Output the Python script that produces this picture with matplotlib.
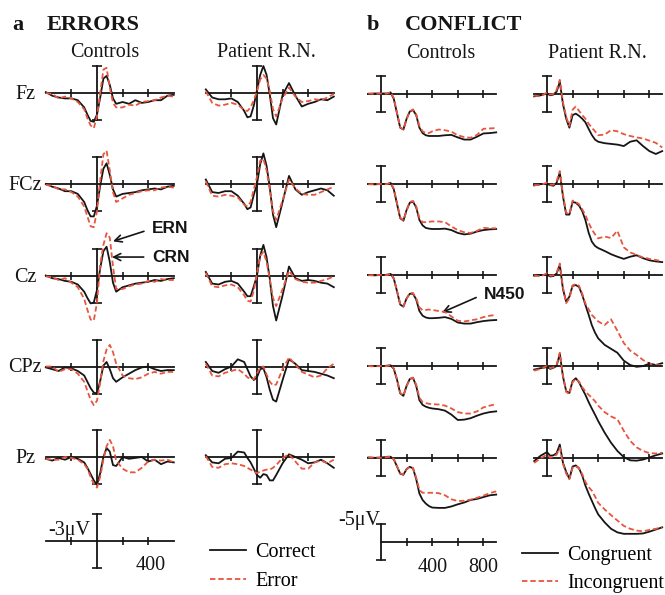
import matplotlib.pyplot as plt
from matplotlib.lines import Line2D

W, H = 665, 595
SERIF = 'Liberation Serif'
SANS = 'Liberation Sans'
RED = '#e8553f'
INK = '#151515'

electrodes = ['Fz', 'FCz', 'Cz', 'CPz', 'Pz']

# time points (ms) at which values were read
t_err = [-400, -350, -300, -250, -200, -150, -100, -75, -50, -25, 0, 25, 50, 75,
         100, 125, 150, 200, 250, 300, 350, 400, 450, 500, 550, 600]
t_conf = [-100, -50, 0, 25, 50, 75, 100, 125, 150, 175, 200, 225, 250, 275, 300,
          325, 350, 375, 400, 450, 500, 550, 600, 650, 700, 750, 800, 850, 900]

# ---- a ERRORS (uV, negative plotted up), rows Fz..Pz ----
err_ctrl_correct = [
    [-0.1, 0.3, 0.5, 0.6, 0.6, 0.8, 1.6, 2.4, 3.1, 3.2, 2.4, 0.5, -1.6, -1.9, -0.9, 0.6, 1.2, 1.0, 1.2, 0.8, 1.1, 1.0, 0.8, 0.8, 0.3, 0.2],
    [0.0, 0.3, 0.5, 0.8, 0.8, 1.1, 2.0, 2.9, 3.6, 3.6, 2.4, 0.2, -1.7, -2.3, -1.0, 0.6, 1.4, 1.1, 1.0, 0.9, 0.7, 0.6, 0.5, 0.6, 0.3, 0.2],
    [0.0, 0.3, 0.4, 0.6, 0.7, 1.0, 1.8, 2.5, 3.1, 3.0, 1.6, -0.8, -2.7, -3.2, -1.5, 0.8, 1.8, 1.3, 1.1, 0.9, 0.8, 0.7, 0.5, 0.6, 0.4, 0.3],
    [0.1, 0.3, 0.5, 0.1, 0.2, 0.5, 1.0, 1.7, 2.4, 2.9, 3.0, 1.6, -0.1, -0.5, 0.3, 1.3, 1.7, 1.2, 0.8, 0.4, 0.1, 0.0, 0.3, 0.5, 0.4, 0.4],
    [0.2, 0.4, 0.1, 0.3, 0.0, 0.2, 0.6, 1.2, 1.9, 2.6, 3.1, 1.8, 0.0, -1.0, -0.6, 0.9, 1.0, 0.0, 0.2, 0.1, 0.0, 0.5, 0.3, 0.8, 0.5, 0.6],
]
err_ctrl_error = [
    [0.0, 0.1, 0.6, 0.4, 0.6, 1.0, 1.8, 2.8, 3.6, 3.9, 2.6, 0.0, -2.6, -2.8, -0.6, 1.1, 1.6, 1.6, 1.3, 1.4, 1.0, 0.9, 0.8, 0.5, 0.3, 0.4],
    [0.1, 0.2, 0.6, 0.6, 0.9, 1.4, 2.5, 3.6, 4.7, 4.8, 3.0, -0.4, -3.3, -3.7, -1.5, 0.9, 2.0, 1.6, 1.2, 1.0, 0.8, 0.7, 0.7, 0.4, 0.3, 0.4],
    [0.1, 0.2, 0.5, 0.3, 0.8, 1.3, 2.6, 3.8, 4.9, 5.0, 3.0, -1.2, -3.4, -4.7, -4.2, -1.0, 1.5, 1.5, 1.2, 1.0, 0.9, 0.6, 0.7, 0.4, 0.5, 0.5],
    [0.0, 0.0, 0.6, 0.3, 0.3, 0.8, 1.7, 2.7, 3.7, 4.3, 3.8, 1.8, -0.6, -1.9, -2.4, -1.6, -0.3, 1.0, 1.3, 1.4, 1.2, 0.8, 0.6, 0.8, 0.6, 0.6],
    [0.2, 0.3, 0.3, 0.0, 0.1, 0.3, 0.8, 1.3, 2.2, 3.0, 3.4, 2.2, 0.3, -1.2, -1.9, -1.2, 0.4, 1.3, 1.7, 1.7, 1.2, 0.5, 0.3, 0.4, 0.3, 0.6],
]
err_pat_correct = [
    [-0.4, 0.5, 0.7, 0.7, 0.6, 1.0, 2.0, 2.7, 2.6, 1.4, -0.3, -2.0, -3.0, -2.0, 0.2, 2.8, 3.5, 0.2, -1.1, 0.3, 1.5, 1.2, 1.0, 0.7, 0.8, 0.4],
    [-0.5, 0.9, 1.0, 0.8, 0.8, 1.3, 2.2, 2.8, 2.6, 1.2, 0.0, -2.2, -3.4, -2.0, 0.4, 3.4, 4.8, 2.0, -0.9, 0.6, 1.2, 0.9, 0.7, 0.5, 0.7, 1.3],
    [-0.4, 0.9, 1.0, 0.7, 0.6, 0.9, 1.8, 2.3, 2.3, 1.2, 0.0, -2.2, -3.4, -2.0, 0.4, 3.4, 5.0, 2.2, -1.0, 0.3, 0.6, 0.5, 0.6, 0.8, 0.9, 1.3],
    [-0.5, 0.5, 0.7, 0.3, 0.0, -0.8, -0.5, 0.3, 1.1, 1.5, 1.2, 0.3, 0.2, 1.2, 2.6, 3.7, 3.9, 1.5, -0.8, -0.3, 0.4, 0.5, 0.6, 0.8, 1.0, 1.3],
    [-0.2, 0.6, 0.7, 0.2, 0.1, -0.6, -0.5, 0.1, 0.6, 1.3, 2.0, 2.3, 1.9, 2.0, 2.6, 2.6, 2.0, 0.7, -0.3, 0.0, 0.3, 0.7, 0.6, 0.3, 0.7, 1.2],
]
err_pat_error = [
    [-0.2, 1.1, 1.4, 1.3, 1.1, 1.3, 1.9, 2.0, 1.6, 0.8, -0.2, -1.5, -2.0, -1.6, -0.2, 1.8, 2.6, 0.6, -0.6, 0.4, 1.0, 0.9, 0.7, 0.8, 0.5, 0.1],
    [-0.3, 1.3, 1.4, 1.2, 1.3, 1.5, 2.3, 2.5, 2.0, 0.6, -0.8, -2.6, -2.8, -1.5, 0.6, 3.0, 4.0, 1.8, -0.5, 0.5, 1.1, 1.2, 1.2, 0.9, 0.6, 0.3],
    [-0.3, 1.2, 1.3, 1.1, 1.0, 1.3, 2.2, 2.8, 2.9, 1.7, -0.2, -2.2, -2.6, -1.5, 0.4, 2.5, 3.4, 1.5, -0.5, 0.4, 0.7, 0.8, 0.8, 0.6, 0.4, 0.1],
    [-0.3, 1.0, 1.1, 0.7, 0.5, 0.3, 0.8, 1.2, 1.4, 1.4, 0.8, 0.1, 0.0, 0.9, 1.7, 2.1, 2.0, 0.3, -1.0, -0.2, 0.6, 0.9, 1.2, 1.0, 0.2, -0.3],
    [-0.1, 1.1, 1.2, 0.8, 0.7, 0.8, 1.0, 1.2, 1.4, 1.6, 1.8, 1.6, 1.5, 1.4, 1.4, 1.2, 0.9, 0.1, -0.3, 0.5, 1.3, 1.3, 0.6, 0.4, 0.7, 0.3],
]

# ---- b CONFLICT ----
conf_ctrl_cong = [
    [0.1, 0.0, 0.0, 0.0, 0.0, -0.3, 1.5, 5.5, 9.5, 10.0, 7.0, 5.0, 4.6, 6.0, 9.5, 11.0, 11.6, 11.8, 11.8, 11.8, 11.6, 11.5, 12.2, 12.8, 12.8, 12.0, 11.1, 11.0, 10.8],
    [0.0, 0.1, 0.0, 0.0, 0.0, -0.3, 1.5, 5.5, 9.5, 10.2, 7.2, 5.2, 4.9, 6.5, 10.0, 11.5, 12.2, 12.4, 12.5, 12.5, 12.4, 12.8, 13.6, 14.0, 13.8, 13.2, 12.8, 12.6, 12.5],
    [0.0, 0.1, 0.0, 0.0, -0.1, -0.3, 1.0, 4.5, 8.2, 8.8, 6.5, 5.2, 5.2, 6.8, 10.0, 11.3, 11.8, 12.0, 12.0, 11.9, 11.7, 12.2, 13.2, 13.5, 13.5, 13.1, 12.8, 12.6, 12.5],
    [0.0, 0.0, 0.0, 0.0, -0.1, -0.2, 0.8, 3.8, 7.6, 8.3, 5.5, 3.6, 3.3, 5.5, 9.5, 10.8, 11.3, 11.6, 11.8, 12.0, 12.4, 13.5, 15.0, 14.9, 14.5, 13.8, 13.2, 12.8, 12.6],
    [0.0, 0.1, 0.0, -0.1, -0.2, -0.2, 0.5, 2.5, 4.5, 4.8, 3.2, 2.6, 3.0, 6.0, 10.0, 11.8, 12.8, 13.5, 13.9, 14.0, 14.0, 13.6, 13.0, 12.5, 11.8, 11.5, 11.0, 10.5, 10.3],
]
conf_ctrl_incong = [
    [0.0, 0.1, 0.0, 0.1, 0.0, -0.4, 1.3, 5.4, 9.4, 10.0, 7.2, 5.0, 4.4, 5.8, 9.0, 10.5, 11.0, 11.0, 10.5, 10.0, 10.2, 10.6, 11.6, 12.1, 12.3, 11.5, 9.8, 9.7, 9.6],
    [0.1, 0.0, 0.0, 0.1, 0.0, -0.4, 1.3, 5.3, 9.3, 10.1, 7.4, 5.0, 4.7, 6.2, 9.4, 10.6, 10.6, 10.5, 10.4, 10.4, 10.6, 11.8, 12.8, 13.4, 13.6, 13.0, 12.2, 12.3, 12.3],
    [0.1, 0.0, 0.0, 0.1, 0.0, -0.4, 0.9, 4.4, 8.0, 8.7, 6.6, 5.0, 5.0, 6.5, 9.0, 9.8, 9.7, 9.6, 9.7, 10.0, 10.3, 11.5, 12.7, 12.9, 12.6, 12.3, 11.7, 11.3, 11.1],
    [0.0, 0.1, 0.0, 0.1, 0.0, -0.3, 0.7, 3.7, 7.4, 8.2, 5.6, 3.6, 3.2, 5.2, 8.8, 10.0, 10.3, 10.5, 10.6, 10.7, 11.0, 11.8, 12.8, 13.2, 13.2, 12.6, 11.5, 11.0, 10.6],
    [0.0, 0.0, 0.1, -0.1, -0.1, -0.3, 0.4, 2.4, 4.4, 4.7, 3.3, 2.6, 2.9, 5.6, 9.0, 9.8, 9.8, 9.8, 9.8, 9.9, 10.5, 11.6, 12.1, 12.0, 11.7, 11.2, 10.6, 9.9, 9.4],
]
conf_pat_cong = [
    [0.8, 0.5, 0.0, 0.5, 0.3, -0.5, -3.2, 3.0, 7.0, 9.5, 6.0, 5.6, 6.2, 7.0, 8.0, 9.8, 11.5, 12.8, 13.4, 13.8, 14.0, 14.2, 14.6, 13.4, 13.0, 14.6, 16.0, 16.8, 16.0],
    [0.4, 0.0, 0.0, 0.3, 0.5, -0.3, -3.2, 3.5, 8.5, 8.5, 5.0, 5.2, 6.0, 7.5, 10.0, 13.5, 16.0, 17.2, 17.8, 18.6, 19.5, 20.2, 20.8, 20.2, 19.8, 20.6, 21.2, 21.5, 21.7],
    [0.2, 0.0, 0.0, 0.4, 0.3, -0.4, -2.8, 4.0, 7.4, 6.0, 3.0, 2.8, 3.3, 5.5, 8.3, 11.0, 13.9, 16.0, 17.6, 19.4, 20.5, 21.6, 23.8, 25.0, 25.5, 25.3, 24.6, 25.0, 24.5],
    [1.0, 0.6, 0.3, 0.8, 0.5, 0.0, -3.4, 3.0, 7.0, 7.5, 4.2, 3.4, 4.5, 6.3, 8.0, 10.0, 11.8, 13.5, 15.3, 18.5, 21.3, 23.6, 25.3, 26.2, 26.3, 26.0, 25.4, 24.8, 24.3],
    [1.0, -0.5, -1.5, -0.5, -0.6, -1.2, -3.6, 1.5, 4.0, 5.9, 2.5, 2.2, 3.0, 5.0, 7.8, 10.0, 12.0, 14.0, 15.8, 18.0, 19.8, 20.8, 21.2, 21.2, 21.2, 21.1, 20.6, 20.0, 19.4],
]
conf_pat_incong = [
    [0.6, 0.8, -0.3, 0.3, 0.1, -1.0, -3.8, 2.5, 6.5, 9.0, 4.5, 3.6, 4.8, 6.0, 7.0, 8.4, 9.5, 10.5, 11.6, 11.4, 10.2, 10.5, 11.3, 11.8, 12.2, 12.5, 13.1, 13.7, 15.0],
    [0.3, 0.3, -0.4, 0.2, 0.2, -0.8, -3.6, 3.0, 8.0, 8.4, 4.6, 5.0, 5.6, 7.0, 8.6, 10.8, 12.6, 14.0, 15.1, 14.6, 15.0, 13.0, 17.6, 19.0, 19.7, 20.4, 20.8, 21.1, 21.5],
    [0.1, 0.4, -0.5, 0.2, 0.1, -0.6, -3.2, 3.5, 7.8, 6.5, 2.9, 2.5, 3.0, 5.2, 7.9, 9.5, 11.1, 12.0, 12.9, 13.9, 12.3, 15.5, 18.9, 21.0, 22.2, 23.6, 24.6, 25.0, 25.0],
    [1.3, 0.8, 0.0, 0.6, 0.4, -0.3, -3.7, 2.7, 7.2, 7.8, 4.5, 3.6, 4.3, 5.9, 7.0, 8.0, 8.8, 9.8, 11.0, 12.8, 14.0, 14.8, 18.0, 20.8, 22.6, 23.6, 24.2, 24.3, 24.1],
    [1.5, 0.2, -0.8, 0.0, -0.2, -0.8, -2.7, 1.8, 4.5, 6.0, 2.8, 2.4, 3.0, 4.6, 6.8, 8.2, 9.2, 10.8, 12.6, 14.4, 16.0, 17.5, 19.0, 19.8, 20.3, 20.5, 20.1, 19.8, 19.4],
]

err_rows = [93, 184, 275.5, 366.5, 457, 541]      # baseline y (px from top)
conf_rows = [93.5, 184, 275, 366, 457.5, 542]
PX_PER_MS = 0.128

fig = plt.figure(figsize=(W / 100, H / 100), dpi=100)


def panel(x0, base, tmin, tmax, px_uv, up, down, bar, xticks, x_from=None):
    w = (tmax - tmin) * PX_PER_MS
    top = base - up * px_uv
    h = (up + down) * px_uv
    ax = fig.add_axes([x0 / W, 1 - (top + h) / H, w / W, h / H])
    ax.set_xlim(tmin, tmax)
    ax.set_ylim(down, -up)
    ax.patch.set_alpha(0)
    for s in ['top', 'right']:
        ax.spines[s].set_visible(False)
    for s in ['bottom', 'left']:
        ax.spines[s].set_position(('data', 0))
        ax.spines[s].set_linewidth(1.3)
        ax.spines[s].set_color(INK)
    ax.spines['left'].set_bounds(-bar, bar)
    ax.spines['bottom'].set_bounds(tmin if x_from is None else x_from, tmax)
    ax.set_xticks(xticks)
    ax.set_yticks([-bar, bar])
    ax.tick_params(axis='x', direction='inout', length=6, width=1.2, color=INK, labelbottom=False)
    ax.tick_params(axis='y', direction='inout', length=7, width=1.2, color=INK, labelleft=False)
    return ax


def traces(ax, t, solid, dashed):
    ax.plot(t, solid, color=INK, lw=1.3, clip_on=False, zorder=3)
    ax.plot(t, dashed, color=RED, lw=1.3, ls=(0, (3, 1.6)), clip_on=False, zorder=4)


err_axes = []
conf_axes = []
for i, name in enumerate(electrodes):
    # errors: controls, patient
    a1 = panel(45.8, err_rows[i], -400, 600, 9, 5, 5, 3, [-200, 200, 400])
    traces(a1, t_err, err_ctrl_correct[i], err_ctrl_error[i])
    a2 = panel(205.8, err_rows[i], -400, 600, 9, 5, 5, 3, [-200, 200, 400])
    traces(a2, t_err, err_pat_correct[i], err_pat_error[i])
    err_axes.append(a1)
    # conflict: controls, patient
    b1 = panel(368.2, conf_rows[i], -100, 900, 3.6, 5, 20, 5, [200, 400, 600, 800])
    traces(b1, t_conf, conf_ctrl_cong[i], conf_ctrl_incong[i])
    b2 = panel(534.2, conf_rows[i], -100, 900, 3.6, 5, 20, 5, [200, 400, 600, 800])
    traces(b2, t_conf, conf_pat_cong[i], conf_pat_incong[i])
    conf_axes.append(b1)
    fig.text(25 / W, 1 - (err_rows[i] + 1.5) / H, name, ha='center', va='center',
             family=SERIF, fontsize=14.5, color=INK)

# scale bars
s1 = panel(45.8, err_rows[5], -400, 600, 9, 5, 5, 3, [-200, 200, 400])
s1.text(-50, -1.2, '-3\u03bcV', ha='right', va='center', family=SERIF, fontsize=14.5, color=INK)
s1.text(420, 2.7, '400', ha='center', va='center', family=SERIF, fontsize=14.5, color=INK)
s2 = panel(368.2, conf_rows[5], -100, 900, 3.6, 5, 20, 5, [200, 400, 600, 800], x_from=0)
s2.text(-5, -6.0, '-5\u03bcV', ha='right', va='center', family=SERIF, fontsize=14.5, color=INK)
s2.text(400, 7, '400', ha='center', va='center', family=SERIF, fontsize=14.5, color=INK)
s2.text(800, 7, '800', ha='center', va='center', family=SERIF, fontsize=14.5, color=INK)

# headings
fig.text(12 / W, 1 - 30 / H, 'a', family=SERIF, weight='bold', fontsize=16, color=INK)
fig.text(47 / W, 1 - 30 / H, 'ERRORS', family=SERIF, weight='bold', fontsize=16, color=INK)
fig.text(367 / W, 1 - 30 / H, 'b', family=SERIF, weight='bold', fontsize=16, color=INK)
fig.text(405 / W, 1 - 30 / H, 'CONFLICT', family=SERIF, weight='bold', fontsize=16, color=INK)
for x, y, s in [(105, 57, 'Controls'), (266, 57, 'Patient R.N.'),
                (441, 58, 'Controls'), (597, 58, 'Patient R.N.')]:
    fig.text(x / W, 1 - y / H, s, ha='center', family=SERIF, fontsize=14.5, color=INK)

# annotations
arrow = dict(arrowstyle='->', color=INK, lw=1.2, relpos=(0, 0.5), shrinkA=4, shrinkB=0)
ax_cz = err_axes[2]
ax_cz.annotate('ERN', xy=(125, -3.8), xytext=(430, -5.2), ha='left', va='center',
               family=SANS, weight='bold', fontsize=12.5, color=INK, arrowprops=arrow)
ax_cz.annotate('CRN', xy=(117, -2.05), xytext=(430, -2.05), ha='left', va='center',
               family=SANS, weight='bold', fontsize=12.5, color=INK, arrowprops=arrow)
conf_axes[2].annotate('N450', xy=(477, 10.4), xytext=(805, 5.3), ha='left', va='center',
                      family=SANS, weight='bold', fontsize=12.5, color=INK, arrowprops=arrow)

# legends
def legend(labels, x, y, gap):
    h = [Line2D([], [], color=INK, lw=1.3),
         Line2D([], [], color=RED, lw=1.3, ls=(0, (3, 1.6)))]
    fig.legend(h, labels, loc='upper left', bbox_to_anchor=(x / W, 1 - y / H),
               frameon=False, handlelength=1.8, handletextpad=0.45, labelspacing=gap,
               borderpad=0, borderaxespad=0, prop={'family': SERIF, 'size': 14.5})

legend(['Correct', 'Error'], 210, 543, 0.5)
legend(['Congruent', 'Incongruent'], 522, 546, 0.45)

fig.savefig('out.png', dpi=100)
